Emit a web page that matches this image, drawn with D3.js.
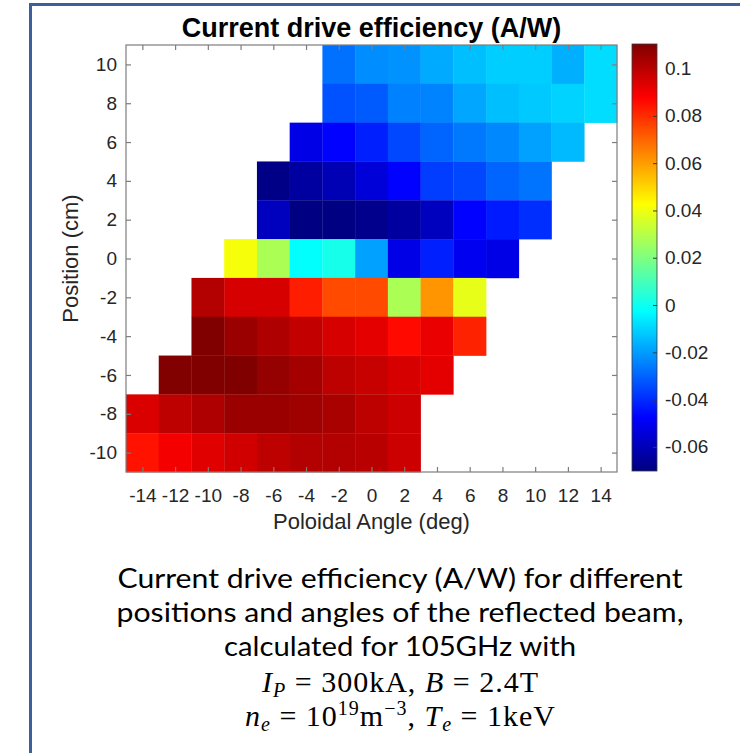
<!DOCTYPE html>
<html><head><meta charset="utf-8">
<script src="https://cdn.jsdelivr.net/npm/d3@7"></script>
<style>body{margin:0;background:#fff}</style>
</head><body>
<svg id="chart" width="740" height="753"></svg>
<script>
// Poloidal launch angle (deg) and beam position (cm)
const angles = [-14, -12, -10, -8, -6, -4, -2, 0, 2, 4, 6, 8, 10, 12, 14];
const positions = [10, 8, 6, 4, 2, 0, -2, -4, -6, -8, -10];

// Current drive efficiency (A/W), one row per position, one entry per angle
const effPos10  = [null, null, null, null, null, null, -0.0276, -0.0226, -0.0218, -0.0173, -0.0138, -0.0111, -0.0111, -0.0164, -0.0085];
const effPos8   = [null, null, null, null, null, null, -0.0333, -0.0315, -0.0248, -0.0244, -0.0182, -0.0138, -0.0120, -0.0102, -0.0085];
const effPos6   = [null, null, null, null, null, -0.0518, -0.0474, -0.0421, -0.0350, -0.0297, -0.0262, -0.0235, -0.0191, -0.0147, null];
const effPos4   = [null, null, null, null, -0.0690, -0.0642, -0.0607, -0.0545, -0.0474, -0.0368, -0.0350, -0.0297, -0.0271, null, null];
const effPos2   = [null, null, null, null, -0.0589, -0.0698, -0.0695, -0.0678, -0.0642, -0.0589, -0.0474, -0.0430, -0.0395, null, null];
const effPos0   = [null, null, null, 0.0411, 0.0278, -0.0023, 0.0013, -0.0191, -0.0518, -0.0421, -0.0501, -0.0518, null, null, null];
const effNeg2   = [null, null, 0.1013, 0.0951, 0.0951, 0.0827, 0.0748, 0.0748, 0.0278, 0.0615, 0.0385, null, null, null, null];
const effNeg4   = [null, null, 0.1106, 0.1057, 0.1022, 0.0987, 0.0951, 0.0925, 0.0862, 0.0916, 0.0818, null, null, null, null];
const effNeg6   = [null, 0.1101, 0.1106, 0.1104, 0.1066, 0.1040, 0.0995, 0.0978, 0.0951, 0.0925, null, null, null, null, null];
const effNeg8   = [0.0942, 0.0995, 0.1022, 0.1057, 0.1057, 0.1049, 0.1031, 0.0995, 0.0969, null, null, null, null, null, null];
const effNeg10  = [0.0845, 0.0898, 0.0933, 0.0960, 0.0995, 0.1013, 0.1013, 0.1004, 0.0969, null, null, null, null, null, null];

const efficiencyRows = [effPos10, effPos8, effPos6, effPos4, effPos2, effPos0, effNeg2, effNeg4, effNeg6, effNeg8, effNeg10];

// Colour axis limits and colorbar ticks
const colorLimits = [-0.0702, 0.1104];
const colorTicks = [-0.06, -0.04, -0.02, 0, 0.02, 0.04, 0.06, 0.08, 0.1];
const colorTickLabels = ["-0.06", "-0.04", "-0.02", "0", "0.02", "0.04", "0.06", "0.08", "0.1"];

const titleText = "Current drive efficiency (A/W)";
const xLabelText = "Poloidal Angle (deg)";
const yLabelText = "Position (cm)";
const captionLines = [
  "Current drive efficiency (A/W) for different",
  "positions and angles of the reflected beam,",
  "calculated for 105GHz with"
];

// MATLAB-style jet colormap
function jet(t) {
  const c = v => Math.max(0, Math.min(1, v));
  const r = c(1.5 - Math.abs(4 * t - 3));
  const g = c(1.5 - Math.abs(4 * t - 2));
  const b = c(1.5 - Math.abs(4 * t - 1));
  return d3.rgb(r * 255, g * 255, b * 255).toString();
}

const svg = d3.select("#chart");
svg.append("rect").attr("width", 740).attr("height", 753).attr("fill", "#fff");

// Slide frame
svg.append("path")
  .attr("d", "M30.5,760 V4.5 H745")
  .attr("fill", "none").attr("stroke", "#3d5f9c").attr("stroke-width", 3);

const plot = { left: 126, right: 617, top: 45, bottom: 472 };
const x = d3.scaleLinear().domain([-15, 15]).range([plot.left, plot.right]);
const y = d3.scaleLinear().domain([-11, 11]).range([plot.bottom, plot.top]);
const colorT = d3.scaleLinear().domain(colorLimits).range([0, 1]).clamp(true);

// Heatmap cells
const cells = [];
efficiencyRows.forEach((row, i) => {
  row.forEach((v, j) => {
    if (v !== null) cells.push({ angle: angles[j], pos: positions[i], value: v });
  });
});

svg.append("g").selectAll("rect").data(cells).join("rect")
  .attr("x", d => x(d.angle - 1))
  .attr("y", d => y(d.pos + 1))
  .attr("width", d => x(d.angle + 1) - x(d.angle - 1) + 0.3)
  .attr("height", d => y(d.pos - 1) - y(d.pos + 1) + 0.3)
  .attr("fill", d => jet(colorT(d.value)));

// Axes with inward ticks on all four sides
const fontFamily = "'Liberation Sans', Arial, sans-serif";
const axisColor = "#7d7d7d";
const plainNumber = d => String(d);
function styleAxis(g, showText) {
  g.select(".domain").remove();
  g.selectAll(".tick line").attr("stroke", axisColor).attr("stroke-width", 1.2);
  g.selectAll(".tick text").attr("fill", "#262626").attr("font-size", 19).attr("font-family", fontFamily);
  if (!showText) g.selectAll(".tick text").remove();
}
svg.append("g").attr("transform", `translate(0,${plot.bottom})`)
  .call(d3.axisBottom(x).tickValues(angles).tickSize(-5).tickPadding(17).tickFormat(plainNumber))
  .call(g => styleAxis(g, true));
svg.append("g").attr("transform", `translate(0,${plot.top})`)
  .call(d3.axisTop(x).tickValues(angles).tickSize(-5))
  .call(g => styleAxis(g, false));
svg.append("g").attr("transform", `translate(${plot.left},0)`)
  .call(d3.axisLeft(y).tickValues(positions).tickSize(-5).tickPadding(9).tickFormat(plainNumber))
  .call(g => styleAxis(g, true));
svg.append("g").attr("transform", `translate(${plot.right},0)`)
  .call(d3.axisRight(y).tickValues(positions).tickSize(-5))
  .call(g => styleAxis(g, false));

svg.append("rect")
  .attr("x", plot.left).attr("y", plot.top)
  .attr("width", plot.right - plot.left).attr("height", plot.bottom - plot.top)
  .attr("fill", "none").attr("stroke", axisColor).attr("stroke-width", 1.2);

// Axis labels and title
const xMid = (plot.left + plot.right) / 2;
svg.append("text").attr("x", xMid).attr("y", 37)
  .attr("text-anchor", "middle").attr("font-family", fontFamily)
  .attr("font-weight", "bold").attr("font-size", 27).attr("fill", "#000")
  .text(titleText);
svg.append("text").attr("x", xMid).attr("y", 529)
  .attr("text-anchor", "middle").attr("font-family", fontFamily)
  .attr("font-size", 22).attr("fill", "#262626")
  .text(xLabelText);
svg.append("text")
  .attr("transform", `translate(78,${(plot.top + plot.bottom) / 2}) rotate(-90)`)
  .attr("text-anchor", "middle").attr("font-family", fontFamily)
  .attr("font-size", 22).attr("fill", "#262626")
  .text(yLabelText);

// Colorbar
const cb = { left: 632, width: 25, top: 44, bottom: 471 };
const cy = d3.scaleLinear().domain(colorLimits).range([cb.bottom, cb.top]);
const grad = svg.append("defs").append("linearGradient")
  .attr("id", "jetGrad").attr("x1", 0).attr("y1", 1).attr("x2", 0).attr("y2", 0);
[0, 0.125, 0.375, 0.625, 0.875, 1].forEach(t => {
  grad.append("stop").attr("offset", t).attr("stop-color", jet(t));
});
svg.append("rect")
  .attr("x", cb.left).attr("y", cb.top)
  .attr("width", cb.width).attr("height", cb.bottom - cb.top)
  .attr("fill", "url(#jetGrad)")
  .attr("stroke", "#3a3a3a").attr("stroke-width", 0.8);
svg.append("g").attr("transform", `translate(${cb.left + cb.width},0)`)
  .call(d3.axisRight(cy).tickValues(colorTicks).tickSize(-4).tickPadding(8)
    .tickFormat((d, i) => colorTickLabels[i]))
  .call(g => {
    g.select(".domain").remove();
    g.selectAll(".tick line").attr("stroke", "#3a3a3a").attr("stroke-width", 1);
    g.selectAll(".tick text").attr("fill", "#262626").attr("font-size", 19).attr("font-family", fontFamily);
  });

// Caption
const capFont = "Lato, 'Open Sans', sans-serif";
const capY = [588, 622, 656];
const capWidths = [565, 567, 352];
captionLines.forEach((line, i) => {
  svg.append("text").attr("x", 400).attr("y", capY[i])
    .attr("text-anchor", "middle").attr("font-family", capFont)
    .attr("font-size", 26).attr("fill", "#000")
    .attr("textLength", capWidths[i]).attr("lengthAdjust", "spacingAndGlyphs")
    .text(line);
});

// Plasma parameters
const mathFont = "'Liberation Serif', 'DejaVu Serif', serif";
function mathLine(yPos, width, parts) {
  const t = svg.append("text").attr("x", 400).attr("y", yPos)
    .attr("text-anchor", "middle").attr("font-family", mathFont)
    .attr("font-size", 30).attr("fill", "#000")
    .attr("textLength", width).attr("lengthAdjust", "spacing");
  parts.forEach(p => {
    const s = t.append("tspan").text(p.t);
    if (p.i) s.attr("font-style", "italic");
    if (p.size) s.attr("font-size", p.size);
    if (p.dy) s.attr("dy", p.dy);
  });
}
mathLine(692, 276, [
  { t: "I", i: true },
  { t: "P", i: true, size: 20, dy: 5 },
  { t: " = 300kA, ", dy: -5 },
  { t: "B", i: true },
  { t: " = 2.4T" }
]);
mathLine(726, 310, [
  { t: "n", i: true },
  { t: "e", i: true, size: 20, dy: 5 },
  { t: " = 10", dy: -5 },
  { t: "19", size: 20, dy: -11 },
  { t: "m", dy: 11 },
  { t: "−3", size: 20, dy: -11 },
  { t: ", ", dy: 11 },
  { t: "T", i: true },
  { t: "e", i: true, size: 20, dy: 5 },
  { t: " = 1keV", dy: -5 }
]);
</script>
</body></html>
